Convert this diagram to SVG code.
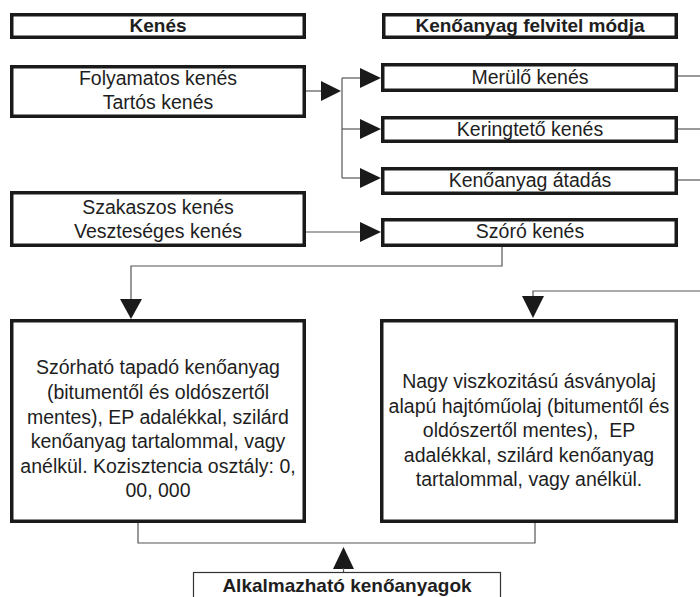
<svg xmlns="http://www.w3.org/2000/svg" width="700" height="597" viewBox="0 0 700 597">
  <defs>
    <style>
      .box { fill: #ffffff; stroke: #1a1a1a; stroke-width: 3.5; }
      .thinbox { fill: #ffffff; stroke: #333333; stroke-width: 1.2; }
      .t { font-family: "Liberation Sans", Arial, sans-serif; font-size: 19.5px; fill: #1e1e1e; text-anchor: middle; }
      .b { font-weight: bold; font-size: 19px; }
      .wire { fill: none; stroke: #555555; stroke-width: 1.2; }
      .head { fill: #1a1a1a; stroke: none; }
    </style>
  </defs>
  <rect width="700" height="597" fill="#ffffff"/>

  <g id="connectors">
    <!-- continuous lubrication to the three application methods -->
    <path class="wire" d="M306,91 H322"/>
    <polygon class="head" points="321,81 341,91 321,101"/>
    <path class="wire" d="M342,78 V178"/>
    <path class="wire" d="M342,78 H361"/>
    <polygon class="head" points="360,68 381,78 360,88"/>
    <path class="wire" d="M342,129 H361"/>
    <polygon class="head" points="360,119 381,129 360,139"/>
    <path class="wire" d="M342,178 H361"/>
    <polygon class="head" points="360,168 381,178 360,188"/>
    <!-- outputs leaving to the right -->
    <path class="wire" d="M678,76 H700"/>
    <path class="wire" d="M678,129 H700"/>
    <path class="wire" d="M678,180 H700"/>
    <!-- intermittent lubrication to spray lubrication -->
    <path class="wire" d="M306,232 H361"/>
    <polygon class="head" points="360,222 381,232 360,242"/>
    <!-- spray lubrication down to the adhesive lubricant -->
    <path class="wire" d="M502,247 V266 H131 V300"/>
    <polygon class="head" points="120,299 131,319 142,299"/>
    <!-- incoming line to the gear oil box -->
    <path class="wire" d="M700,291 H533 V297"/>
    <polygon class="head" points="522,296 533,318 544,296"/>
    <!-- both lubricants joined above the applicable lubricants box -->
    <path class="wire" d="M138,523 V543 H535 V523"/>
    <polygon class="head" points="333,569 343.5,547 354,569"/>
    <path class="wire" d="M343.5,568 V573"/>
  </g>

  <g id="kenes">
    <rect class="box" x="11.75" y="14.75" width="292.5" height="22.5"/>
    <text class="t b" x="158" y="32">Kenés</text>
  </g>

  <g id="felvitel">
    <rect class="box" x="383.75" y="14.75" width="292.5" height="22.5"/>
    <text class="t b" x="530" y="32">Kenőanyag felvitel módja</text>
  </g>

  <g id="folyamatos">
    <rect class="box" x="11.75" y="66.75" width="292.5" height="49.5"/>
    <text class="t" x="158" y="85">Folyamatos kenés</text>
    <text class="t" x="158" y="109">Tartós kenés</text>
  </g>

  <g id="merulo">
    <rect class="box" x="382.75" y="64.75" width="293.5" height="25.5"/>
    <text class="t" x="530" y="84">Merülő kenés</text>
  </g>

  <g id="keringteto">
    <rect class="box" x="382.75" y="117.75" width="293.5" height="23.5"/>
    <text class="t" x="530" y="136">Keringtető kenés</text>
  </g>

  <g id="atadas">
    <rect class="box" x="382.75" y="168.75" width="293.5" height="24.5"/>
    <text class="t" x="530" y="187">Kenőanyag átadás</text>
  </g>

  <g id="szakaszos">
    <rect class="box" x="11.75" y="192.75" width="292.5" height="52.5"/>
    <text class="t" x="158" y="214">Szakaszos kenés</text>
    <text class="t" x="158" y="238">Veszteséges kenés</text>
  </g>

  <g id="szoro">
    <rect class="box" x="382.75" y="219.75" width="293.5" height="25.5"/>
    <text class="t" x="530" y="238">Szóró kenés</text>
  </g>

  <g id="tapado">
    <rect class="box" x="11.75" y="320.75" width="292.5" height="200.5"/>
    <text class="t" x="158" y="374">Szórható tapadó kenőanyag</text>
    <text class="t" x="158" y="399">(bitumentől és oldószertől</text>
    <text class="t" x="158" y="424">mentes), EP adalékkal, szilárd</text>
    <text class="t" x="158" y="448">kenőanyag tartalommal, vagy</text>
    <text class="t" x="158" y="473">anélkül. Kozisztencia osztály: 0,</text>
    <text class="t" x="158" y="497">00, 000</text>
  </g>

  <g id="hajtomuolaj">
    <rect class="box" x="381.75" y="320.75" width="294.5" height="200.5"/>
    <text class="t" x="529" y="388">Nagy viszkozitású ásványolaj</text>
    <text class="t" x="529" y="413">alapú hajtóműolaj (bitumentől és</text>
    <text class="t" x="529" y="437" xml:space="preserve">oldószertől mentes),  EP</text>
    <text class="t" x="529" y="462">adalékkal, szilárd kenőanyag</text>
    <text class="t" x="529" y="486">tartalommal, vagy anélkül.</text>
  </g>

  <g id="alkalmazhato">
    <rect class="thinbox" x="193.5" y="572.5" width="307" height="34"/>
    <text class="t b" x="347" y="592">Alkalmazható kenőanyagok</text>
  </g>
</svg>
